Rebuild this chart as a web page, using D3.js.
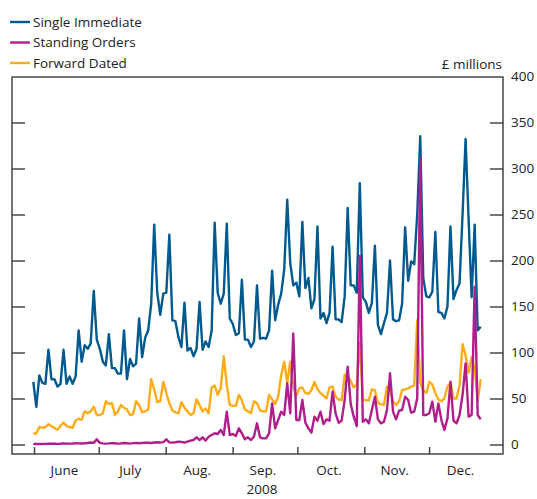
<!DOCTYPE html>
<html><head><meta charset="utf-8">
<script src="https://cdn.jsdelivr.net/npm/d3@7"></script>
<style>
body{margin:0;background:#fff}
svg{display:block}
text{font-family:"Open Sans",sans-serif;fill:#222;font-size:13.5px}
</style>
</head><body>
<svg id="chart" width="537" height="499"></svg>
<script>
const seriesNames = ["Single Immediate", "Standing Orders", "Forward Dated"];
const seriesColors = ["#005a8f", "#b01e8c", "#fbac18"];

const singleImmediate = [68,41,75,67,66,103,71,71,63,66,
103,66,74,66,74,124,90,108,104,110,
167,114,104,90,86,120,83,83,77,77,
124,71,93,85,88,137,95,116,124,153,
239,165,141,164,165,228,135,134,117,106,
154,102,105,96,104,155,103,112,106,124,
241,165,153,164,240,137,131,119,121,179,
114,114,106,112,173,115,116,115,124,189,
135,152,164,190,266,197,173,176,161,242,
170,181,148,158,237,137,143,132,143,215,
136,136,133,161,257,173,173,165,284,160,
155,143,154,216,130,120,132,143,200,136,
134,135,153,236,178,199,196,250,335,181,
161,160,166,231,144,143,137,150,237,158,
168,175,250,332,245,160,239,124,128];

const standingOrders = [0.5,0.5,0.6,0.6,0.7,0.8,0.8,0.8,0.7,0.8,
1.2,1,0.9,0.9,1.4,1.2,1.1,1.3,1.6,2.2,
1.8,5.6,1.8,1.2,1,1.2,1.5,1.3,1,1.2,
1.6,1.4,1,1.5,1.6,1.4,1.8,2,1.9,1.6,
2.2,2.4,2.1,2.6,5.6,2.3,2,2.4,3,2.8,
2,3.1,4.2,4.9,7.8,4.9,7.8,4.2,8.5,10.3,
12.2,11.4,15.8,10.3,35.7,10.3,11.4,9.2,17.6,12.2,
5.6,7.8,4.9,8.5,23,7.8,6.7,6.7,12.2,44.7,
17.6,26.6,35.7,32.1,66.5,33.9,120.8,26.6,26.6,48.4,
23.7,17.6,12.9,30.2,25.9,35.7,22.3,27.3,25.9,57.4,
33.9,23.7,25.9,48.4,84.6,44,30.2,20.1,204.9,24.8,
27.3,23,37.5,52,27.3,23,24.8,37.5,77.4,35.7,
27.3,36.8,37.5,52,48.4,34.6,35.7,50.2,310,32.1,
32.1,33.9,46.6,24.8,44.7,26.6,15.8,28.4,68.3,25.9,
23,32.1,53.8,88.2,30.2,32.1,171.5,32.1,27.3];

const forwardDated = [12,12,19,18,19,22,20,18,16,20,
24,20,19,18,26,28,27,36,34,36,
41,32,32,34,47,44,45,32,36,43,
40,38,32,33,47,43,35,36,38,71,
60,46,47,68,56,45,37,35,34,46,
40,36,32,34,49,43,36,39,34,62,
64,54,61,96,65,43,42,42,54,48,
38,36,34,47,45,37,36,36,54,49,
44,52,75,90,67,90,63,53,61,62,
56,55,59,68,60,56,53,50,62,63,
52,49,48,76,74,69,62,65,111,49,
48,48,60,59,45,44,43,63,59,47,
43,47,59,60,61,63,64,135,67,59,
56,68,65,56,49,47,50,63,67,50,
50,64,109,97,78,95,83,47,71];

const monthLabels = ["June","July","Aug.","Sep.","Oct.","Nov.","Dec."];
const monthStarts = ["2008-06-01","2008-07-01","2008-08-01","2008-09-01","2008-10-01","2008-11-01","2008-12-01","2009-01-01"];
const yearLabel = "2008";
const yTicks = [0,50,100,150,200,250,300,350,400];
const unitLabel = "£ millions";

const svg = d3.select("#chart");
const frame = {left:12, right:503, top:77, bottom:454};
const parse = d3.utcParse("%Y-%m-%d");
const monthDates = monthStarts.map(parse);

const xTime = d3.scaleUtc().domain([monthDates[0], monthDates[monthDates.length-1]]).range([34, 496]);
const n = singleImmediate.length;
const xIdx = d3.scaleLinear().domain([0, n-1]).range([33.3, 480.7]);
const y = d3.scaleLinear().domain([0,400]).range([444.5, 76.5]);

// frame
svg.append("rect").attr("x",frame.left).attr("y",frame.top)
  .attr("width",frame.right-frame.left).attr("height",frame.bottom-frame.top)
  .attr("fill","none").attr("stroke","#3a3a3a").attr("stroke-width",1.4);

// y ticks inward both sides
const yInner = yTicks.filter(v => v < 400);
svg.append("g").attr("transform",`translate(${frame.left},0)`)
  .call(d3.axisRight(y).tickValues(yInner).tickSize(13).tickFormat(""))
  .call(g=>g.select(".domain").remove())
  .call(g=>g.selectAll("line").attr("stroke","#3a3a3a").attr("stroke-width",1.4));
svg.append("g").attr("transform",`translate(${frame.right},0)`)
  .call(d3.axisLeft(y).tickValues(yInner).tickSize(13).tickFormat(""))
  .call(g=>g.select(".domain").remove())
  .call(g=>g.selectAll("line").attr("stroke","#3a3a3a").attr("stroke-width",1.4));

// y labels on the right
svg.append("g").selectAll("text").data(yTicks).join("text")
  .attr("x",511).attr("y",d=>y(d)).attr("dy","0.36em")
  .attr("text-anchor","start").text(d=>d);

svg.append("text").attr("x",502).attr("y",69).attr("text-anchor","end").text(unitLabel);

// x ticks (month starts)
svg.append("g").attr("transform",`translate(0,${frame.bottom})`)
  .call(d3.axisTop(xTime).tickValues(monthDates.slice(0,7)).tickSize(7).tickFormat(""))
  .call(g=>g.select(".domain").remove())
  .call(g=>g.selectAll("line").attr("stroke","#3a3a3a").attr("stroke-width",1.4));

svg.append("g").selectAll("text").data(monthLabels).join("text")
  .attr("x",(d,i)=> (xTime(monthDates[i]) + xTime(monthDates[i+1]))/2 - 2)
  .attr("y",475).attr("text-anchor","middle").text(d=>d);

svg.append("text").attr("x",262).attr("y",494).attr("text-anchor","middle").text(yearLabel);

// lines
const line = d3.line().x((d,i)=>xIdx(i)).y(d=>y(d));
const drawOrder = [[singleImmediate,0],[forwardDated,2],[standingOrders,1]];
drawOrder.forEach(([arr,ci])=>{
  svg.append("path").datum(arr).attr("d",line)
    .attr("fill","none").attr("stroke",seriesColors[ci]).attr("stroke-width",2.4)
    .attr("stroke-linejoin","round");
});

// legend
const lg = svg.append("g");
seriesNames.forEach((name,i)=>{
  const yy = 22 + i*20.5;
  lg.append("line").attr("x1",10).attr("x2",30).attr("y1",yy).attr("y2",yy)
    .attr("stroke",seriesColors[i]).attr("stroke-width",2.4);
  lg.append("text").attr("x",33).attr("y",yy).attr("dy","0.36em").text(name);
});
</script>
</body></html>
